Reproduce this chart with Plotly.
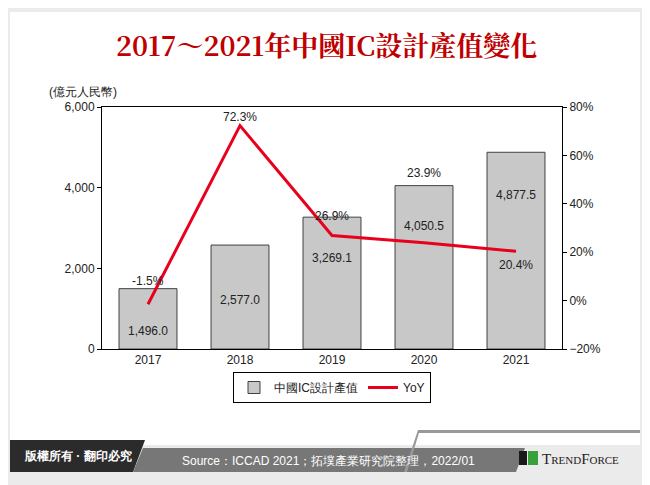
import plotly.graph_objects as go

years = ["2017", "2018", "2019", "2020", "2021"]
values = [1496.0, 2577.0, 3269.1, 4050.5, 4877.5]
yoy = [-1.5, 72.3, 26.9, 23.9, 20.4]
value_labels = ["1,496.0", "2,577.0", "3,269.1", "4,050.5", "4,877.5"]
yoy_labels = ["-1.5%", "72.3%", "26.9%", "23.9%", "20.4%"]

W, H = 650, 485
OFF = 8  # page body margin
L, R, T, B = 102 - OFF, 562 - OFF, 107 - OFF, 349 - OFF


def px(x):
    return (x - OFF - L) / (R - L)


def py(y):
    return (B - (y - OFF)) / (B - T)


fig = go.Figure()
fig.add_trace(go.Bar(x=years, y=values, name="中國IC設計產值", width=0.63,
                     marker=dict(color="#c8c8c8", line=dict(color="#404040", width=1))))
fig.add_trace(go.Scatter(x=years, y=yoy, name="YoY", yaxis="y2", mode="lines",
                         line=dict(color="#e8001c", width=3)))

# bar value labels (inside bars) and yoy labels
bar_label_y = [450, 1220, 2250, 3050, 3830]
for i, (yv, lab) in enumerate(zip(bar_label_y, value_labels)):
    fig.add_annotation(x=i, y=yv, text=lab, showarrow=False, font=dict(size=12, color="#222"))
shifts = [23, 9, 20, 70, -14]
for i, (v, lab, s) in enumerate(zip(yoy, yoy_labels, shifts)):
    fig.add_annotation(x=i, y=v, yref="y2", text=lab, showarrow=False, yshift=s,
                       font=dict(size=12, color="#222"))

shapes = [
    dict(type="rect", xref="paper", yref="paper", x0=px(10), x1=px(640), y0=py(445), y1=py(12),
         fillcolor="white", line=dict(width=0), layer="below"),
    dict(type="path", xref="paper", yref="paper", layer="above", fillcolor="#2b2b2b", line=dict(width=0),
         path=f"M {px(10)},{py(440)} L {px(145)},{py(440)} L {px(133)},{py(472)} L {px(10)},{py(472)} Z"),
    dict(type="path", xref="paper", yref="paper", layer="above", fillcolor="#777777", line=dict(width=0),
         path=f"M {px(143)},{py(448)} L {px(525)},{py(448)} L {px(516)},{py(472)} L {px(133)},{py(472)} Z"),
    dict(type="path", xref="paper", yref="paper", layer="above", fillcolor="#999999", line=dict(width=0),
         path=f"M {px(418)},{py(430)} L {px(640)},{py(430)} L {px(640)},{py(433)} L {px(419)},{py(433)} L {px(407)},{py(472)} L {px(404)},{py(472)} Z"),
    dict(type="rect", xref="paper", yref="paper", x0=px(519), x1=px(527), y0=py(465), y1=py(451),
         fillcolor="#1a1a1a", line=dict(width=0)),
    dict(type="rect", xref="paper", yref="paper", x0=px(528), x1=px(538), y0=py(465), y1=py(451),
         fillcolor="#3aa03a", line=dict(width=0)),
]

annos = [
    dict(x=px(326), y=py(44), xanchor="center", text="<b>2017～2021年中國IC設計產值變化</b>",
         font=dict(family="Noto Serif CJK TC, Noto Sans CJK TC, serif", size=27, color="#c00000")),
    dict(x=px(47), y=py(92), xanchor="left", text="(億元人民幣)", font=dict(size=12, color="#222")),
    dict(x=px(22), y=py(456), xanchor="left", text="<b>版權所有 · 翻印必究</b>",
         font=dict(size=12, color="white")),
    dict(x=px(180), y=py(461), xanchor="left", text="Source：ICCAD 2021；拓墣產業研究院整理，2022/01",
         font=dict(size=12, color="white")),
    dict(x=px(540), y=py(459), xanchor="left", text="T<span style='font-size:11px'>REND</span>F<span style='font-size:11px'>ORCE</span>",
         font=dict(family="Liberation Serif", size=15, color="#222")),
]
for a in annos:
    fig.add_annotation(xref="paper", yref="paper", yanchor="middle", showarrow=False, **a)

fig.update_layout(
    width=W, height=H,
    margin=dict(l=L, r=W - R, t=T, b=H - B),
    paper_bgcolor="#ebebeb", plot_bgcolor="white",
    font=dict(family="Liberation Sans, Arial, sans-serif", size=12, color="#222"),
    shapes=shapes,
    xaxis=dict(type="category", range=[-0.5, 4.5], autorange=False, showline=True, linecolor="black",
               ticks="", showgrid=False, mirror=True),
    yaxis=dict(range=[0, 6000], dtick=2000, tickformat=",", showgrid=False, showline=True,
               linecolor="black", ticks="outside", ticklen=4, mirror=False, tickcolor="black"),
    yaxis2=dict(range=[-20, 80], dtick=20, ticksuffix="%", overlaying="y", side="right",
                showgrid=False, showline=True, linecolor="black", ticks="outside", ticklen=4,
                tickcolor="black", zeroline=False),
    legend=dict(orientation="h", x=0.5, xanchor="center", y=py(372), yanchor="top",
                bordercolor="black", borderwidth=1, bgcolor="white", font=dict(size=12)),
)

fig.write_html("out.html")
